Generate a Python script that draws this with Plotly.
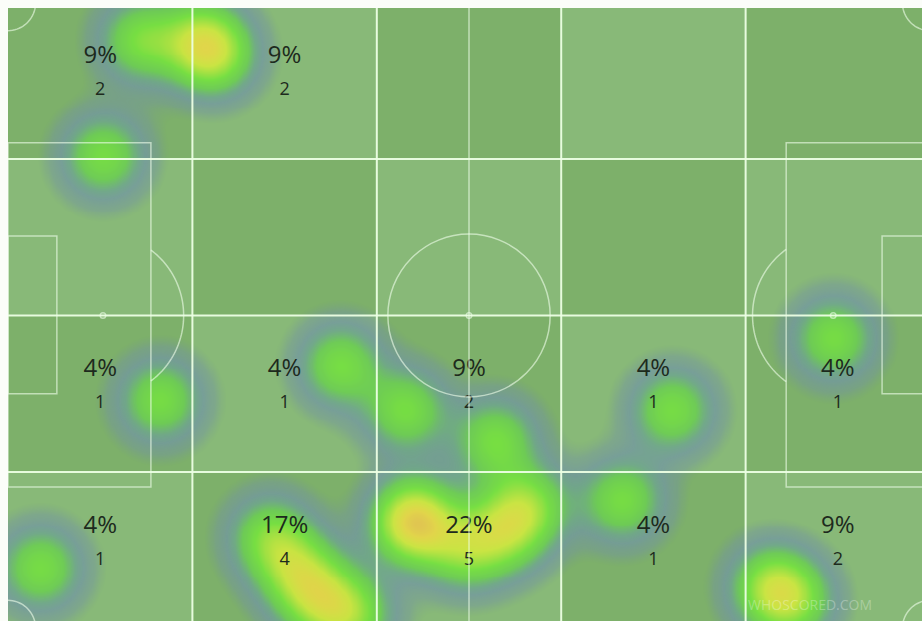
import numpy as np
import plotly.graph_objects as go

# Touch locations in pitch units (x: 0-100 goal to goal, y: 0-100 top to bottom)
touch_x = [14.3, 10.3, 20.8, 22.5, 16.5, 36.0, 43.1, 52.8, 72.0, 89.5, 3.5,
           28.4, 31.4, 33.8, 37.3, 43.7, 44.3, 49.6, 53.9, 56.4, 66.6, 82.6, 85.0]
touch_y = [6.0, 24.5, 6.0, 8.4, 63.5, 57.9, 65.1, 69.9, 65.1, 53.6, 90.3,
           85.3, 90.8, 95.3, 97.9, 82.6, 83.2, 87.3, 84.6, 80.3, 79.5, 93.1, 95.5]

# Zone grid (5 columns x 4 rows)
zone_x_edges = [0, 20, 40, 60, 80, 100]
zone_y_edges = [0, 25, 50, 75, 100]

tx = np.array(touch_x)
ty = np.array(touch_y)

# Count touches per zone
n_cols = len(zone_x_edges) - 1
n_rows = len(zone_y_edges) - 1
counts = np.zeros((n_rows, n_cols), dtype=int)
for px, py in zip(tx, ty):
    c = min(np.searchsorted(zone_x_edges, px, side="right") - 1, n_cols - 1)
    r = min(np.searchsorted(zone_y_edges, py, side="right") - 1, n_rows - 1)
    counts[r, c] += 1
total = counts.sum()

# Kernel density of touches
sig_x, sig_y = 3.05, 4.5
gx = np.linspace(0, 100, 420)
gy = np.linspace(0, 100, 320)
GX, GY = np.meshgrid(gx, gy)
dens = np.zeros_like(GX)
for px, py in zip(tx, ty):
    dens += np.exp(-((GX - px) ** 2 / (2 * sig_x ** 2) + (GY - py) ** 2 / (2 * sig_y ** 2)))

zmax = 2.6
heat_scale = [
    [0.0, "rgba(110,140,160,0)"],
    [0.025, "rgba(112,142,160,0)"],
    [0.06, "rgba(114,146,162,0.45)"],
    [0.12, "rgba(114,150,162,0.75)"],
    [0.18, "rgba(110,166,140,0.85)"],
    [0.27, "rgba(108,204,84,0.92)"],
    [0.4, "rgba(118,224,64,0.95)"],
    [0.6, "rgba(206,230,64,0.95)"],
    [0.74, "rgba(230,214,72,0.95)"],
    [1.0, "rgba(226,160,94,0.95)"],
]

fig = go.Figure()
fig.add_trace(go.Heatmap(
    x=gx, y=gy, z=dens, zmin=0, zmax=zmax, colorscale=heat_scale,
    zsmooth="best", showscale=False, hoverinfo="skip",
))

# Zone labels: percentage and count
lab_x, lab_pct_y, lab_cnt_y, lab_pct, lab_cnt = [], [], [], [], []
for r in range(n_rows):
    for c in range(n_cols):
        if counts[r, c] == 0:
            continue
        cx = (zone_x_edges[c] + zone_x_edges[c + 1]) / 2
        cy = (zone_y_edges[r] + zone_y_edges[r + 1]) / 2
        lab_x.append(cx)
        lab_pct_y.append(cy - 3.75)
        lab_cnt_y.append(cy + 1.6)
        lab_pct.append(f"{round(100 * counts[r, c] / total)}%")
        lab_cnt.append(str(counts[r, c]))

fig.add_trace(go.Scatter(
    x=lab_x, y=lab_pct_y, text=lab_pct, mode="text",
    textfont=dict(family="Open Sans", size=24, color="#1d2a1d"),
    hoverinfo="skip", showlegend=False,
))
fig.add_trace(go.Scatter(
    x=lab_x, y=lab_cnt_y, text=lab_cnt, mode="text",
    textfont=dict(family="Open Sans", size=18, color="#1d2a1d"),
    hoverinfo="skip", showlegend=False,
))

shapes = []
# Checkerboard grass
light, dark = "#88b978", "#7db06a"
for r in range(n_rows):
    for c in range(n_cols):
        shapes.append(dict(
            type="rect", layer="below", line=dict(width=0),
            x0=zone_x_edges[c], x1=zone_x_edges[c + 1],
            y0=zone_y_edges[r], y1=zone_y_edges[r + 1],
            fillcolor=light if (r + c) % 2 else dark,
        ))

mark = dict(color="rgba(240,255,235,0.6)", width=1.5)


def ellipse_path(cx, cy, rx, ry, t0, t1, n=60):
    t = np.linspace(t0, t1, n)
    pts = [f"{cx + rx * np.cos(a):.3f},{cy + ry * np.sin(a):.3f}" for a in t]
    return "M " + " L ".join(pts)


# Pitch markings
shapes.append(dict(type="line", x0=50, x1=50, y0=0, y1=100, line=mark, layer="above"))
shapes.append(dict(type="circle", x0=50 - 8.8, x1=50 + 8.8, y0=50 - 13.0, y1=50 + 13.0,
                   line=mark, layer="above"))
shapes.append(dict(type="circle", x0=49.7, x1=50.3, y0=49.55, y1=50.45,
                   line=mark, layer="above"))
for side in (0, 1):
    if side == 0:
        bx0, bx1, sx0, sx1, spot = 0, 15.5, 0, 5.3, 10.3
    else:
        bx0, bx1, sx0, sx1, spot = 84.4, 100, 94.8, 100, 89.5
    shapes.append(dict(type="rect", x0=bx0, x1=bx1, y0=22.4, y1=77.4, line=mark, layer="above"))
    shapes.append(dict(type="rect", x0=sx0, x1=sx1, y0=37.3, y1=62.5, line=mark, layer="above"))
    shapes.append(dict(type="circle", x0=spot - 0.3, x1=spot + 0.3, y0=49.55, y1=50.45,
                       line=mark, layer="above"))
    # Penalty arc outside the box
    rx, ry = 8.75, 13.0
    edge = (bx1 - spot) if side == 0 else (spot - bx0)
    a = np.arccos(edge / rx)
    if side == 0:
        path = ellipse_path(spot, 50, rx, ry, -a, a)
    else:
        path = ellipse_path(spot, 50, rx, ry, np.pi - a, np.pi + a)
    shapes.append(dict(type="path", path=path, line=mark, layer="above"))

# Corner arcs
crx, cry = 3.0, 4.5
for cx, cy, t0, t1 in [(0, 0, 0, np.pi / 2), (100, 0, np.pi / 2, np.pi),
                       (0, 100, -np.pi / 2, 0), (100, 100, np.pi, 1.5 * np.pi)]:
    shapes.append(dict(type="path", path=ellipse_path(cx, cy, crx, cry, t0, t1, 20),
                       line=mark, layer="above"))

# Zone grid lines
grid_line = dict(color="rgba(236,255,228,0.95)", width=2)
for xv in zone_x_edges[1:-1]:
    shapes.append(dict(type="line", x0=xv, x1=xv, y0=0, y1=100, line=grid_line, layer="above"))
for yv in zone_y_edges[1:-1]:
    shapes.append(dict(type="line", x0=0, x1=100, y0=yv, y1=yv, line=grid_line, layer="above"))

fig.update_layout(
    width=922, height=621,
    margin=dict(l=8, r=0, t=8, b=0),
    paper_bgcolor="#fbfdf9",
    plot_bgcolor="#82b470",
    shapes=shapes,
    showlegend=False,
    xaxis=dict(range=[0, 99.13], showgrid=False, zeroline=False, showticklabels=False,
               fixedrange=True),
    yaxis=dict(range=[98.8, 0.88], showgrid=False, zeroline=False, showticklabels=False,
               fixedrange=True),
    annotations=[dict(
        x=87.0, y=96.2, xref="x", yref="y", text="WHOSCORED.COM", showarrow=False,
        font=dict(family="Open Sans", size=14, color="rgba(255,255,255,0.3)"),
    )],
)

fig.write_html("out.html")
